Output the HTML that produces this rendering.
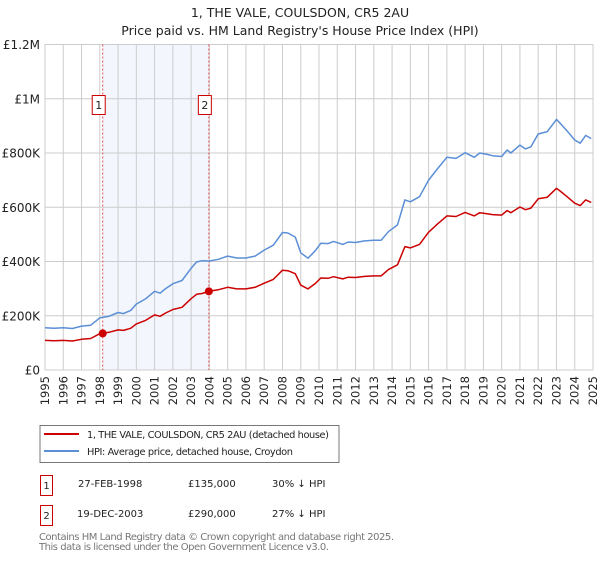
<!DOCTYPE html>
<html><head><meta charset="utf-8"><style>
body{margin:0;background:#fff;font-family:"Liberation Sans","DejaVu Sans",sans-serif;}
svg text{font-family:"DejaVu Sans","Liberation Sans",sans-serif;}
</style></head><body>
<svg id="c" width="600" height="560" xmlns="http://www.w3.org/2000/svg">
<text x="300" y="17" text-anchor="middle" font-size="12.5" fill="#222">1, THE VALE, COULSDON, CR5 2AU</text>
<text x="300" y="35" text-anchor="middle" font-size="12.5" fill="#222">Price paid vs. HM Land Registry's House Price Index (HPI)</text>
<g id="grid"></g><g id="marks"></g><g id="axes"></g>
<g>
<rect x="40" y="425.5" width="299" height="37" fill="#fff" stroke="#777"/>
<line x1="44" y1="434" x2="79" y2="434" stroke="#cc0000" stroke-width="2"/>
<text x="87" y="438" font-size="9.8" textLength="242" fill="#222">1, THE VALE, COULSDON, CR5 2AU (detached house)</text>
<line x1="44" y1="451" x2="79" y2="451" stroke="#5b8fd6" stroke-width="2"/>
<text x="87" y="455" font-size="9.8" textLength="206" fill="#222">HPI: Average price, detached house, Croydon</text>
</g>
<g font-size="10" fill="#222">
<rect x="40.5" y="475.5" width="12" height="20" fill="#fff" stroke="#cc0000"/><text x="46.5" y="489" text-anchor="middle">1</text>
<text x="78" y="487">27-FEB-1998</text><text x="188" y="487">£135,000</text><text x="272" y="487">30% ↓ HPI</text>
<rect x="40.5" y="505.5" width="12" height="20" fill="#fff" stroke="#cc0000"/><text x="46.5" y="519" text-anchor="middle">2</text>
<text x="77" y="517">19-DEC-2003</text><text x="188" y="517">£290,000</text><text x="272" y="517">27% ↓ HPI</text>
</g>
<text x="39" y="540" font-size="10" textLength="355" fill="#777">Contains HM Land Registry data © Crown copyright and database right 2025.</text>
<text x="39" y="550" font-size="10" textLength="290" fill="#777">This data is licensed under the Open Government Licence v3.0.</text>
</svg>
<script>
const dates=[1995.0,1995.5,1996.0,1996.5,1997.0,1997.5,1998.0,1998.5,1999.0,1999.3,1999.7,2000.0,2000.5,2001.0,2001.3,2001.6,2002.0,2002.5,2003.0,2003.3,2003.6,2004.0,2004.5,2005.0,2005.5,2006.0,2006.5,2007.0,2007.5,2008.0,2008.3,2008.7,2009.0,2009.4,2009.8,2010.1,2010.5,2010.8,2011.3,2011.6,2012.0,2012.5,2013.0,2013.4,2013.8,2014.3,2014.7,2015.0,2015.5,2016.0,2016.5,2017.0,2017.5,2018.0,2018.5,2018.8,2019.2,2019.5,2020.0,2020.3,2020.5,2021.0,2021.3,2021.6,2022.0,2022.5,2023.0,2023.2,2023.6,2024.0,2024.3,2024.6,2024.9];
const hpiValues=[156,154,156,153,162,165,192,198,212,208,220,243,262,290,283,300,318,330,375,398,403,402,408,420,413,413,420,442,460,507,505,490,432,412,440,467,466,474,463,472,470,476,478,478,510,535,627,620,639,700,743,784,780,801,784,800,795,790,787,811,800,829,815,823,870,879,924,910,880,848,836,865,853];
const propertyValues=[109,108,109,107,113,116,134,139,148,146,154,170,183,203,198,210,223,231,263,279,282,291,296,305,299,299,305,320,334,368,366,355,313,299,319,339,338,344,336,342,341,345,347,347,370,388,455,450,463,508,539,568,566,581,568,580,576,573,571,588,580,601,591,597,631,637,670,660,638,615,606,627,618];
const saleDates=[1998.16,2003.97];
const salePrices=[135,290];
const saleLabels=["1","2"];
const yTicks=[0,200,400,600,800,1000,1200];
const yTickLabels=["£0","£200K","£400K","£600K","£800K","£1M","£1.2M"];
const xTicks=[1995,1996,1997,1998,1999,2000,2001,2002,2003,2004,2005,2006,2007,2008,2009,2010,2011,2012,2013,2014,2015,2016,2017,2018,2019,2020,2021,2022,2023,2024,2025];

const X0=45,X1=593,Y0=370,Y1=44.5;
const xs=d=>X0+(d-1995)/30*(X1-X0);
const ys=v=>Y0-v/1200*(Y0-Y1);
const NS="http://www.w3.org/2000/svg";
function mk(parent,tag,attrs){const e=document.createElementNS(NS,tag);for(const k in attrs)e.setAttribute(k,attrs[k]);document.getElementById(parent).appendChild(e);return e;}

let sh=mk('grid','rect',{x:xs(saleDates[0]),y:Y1,width:xs(saleDates[1])-xs(saleDates[0]),height:Y0-Y1,fill:'#f3f6fd'});


xTicks.forEach(t=>{let l=mk('grid','line',{x1:xs(t),x2:xs(t),y1:Y1,y2:Y0,stroke:'#cccccc','stroke-width':1});


let tx=mk('axes','text',{x:0,y:0,'font-size':11.5,fill:'#222','text-anchor':'end',transform:`translate(${xs(t)+4},${Y0+6}) rotate(-90)`});
tx.textContent=t;

});
yTicks.forEach((t,i)=>{let l=mk('grid','line',{x1:X0,x2:X1,y1:ys(t),y2:ys(t),stroke:'#cccccc','stroke-width':1});


let tx=mk('axes','text',{x:40,y:ys(t)+4.5,'font-size':12,fill:'#222','text-anchor':'end'});
tx.textContent=yTickLabels[i];

});
saleDates.forEach((d,i)=>{let l=mk('marks','line',{x1:xs(d),x2:xs(d),y1:Y1,y2:Y0,stroke:'#e05050','stroke-width':1,'stroke-dasharray':'2,2'});


let r=mk('marks','rect',{x:xs(d)-10.5,y:95.5,width:13,height:19,fill:'#fff',stroke:'#cc0000'});


let t=mk('marks','text',{x:xs(d)-4,y:109,'font-size':11,fill:'#222','text-anchor':'middle'});
t.textContent=saleLabels[i];

});
function path(vals,color,name){let d=vals.map((v,i)=>(i?'L':'M')+xs(dates[i]).toFixed(1)+','+ys(v).toFixed(1)).join('');
let p=mk('marks','path',{d:d,fill:'none',stroke:color,'stroke-width':1.5,'stroke-linejoin':'round'});

}
path(hpiValues,'#5b8fd6','hpi-line');
path(propertyValues,'#cc0000','property-line');
saleDates.forEach((d,i)=>{let c=mk('marks','circle',{cx:xs(d),cy:ys(salePrices[i]),r:4,fill:'#cc0000'});

});
</script>
</body></html>
